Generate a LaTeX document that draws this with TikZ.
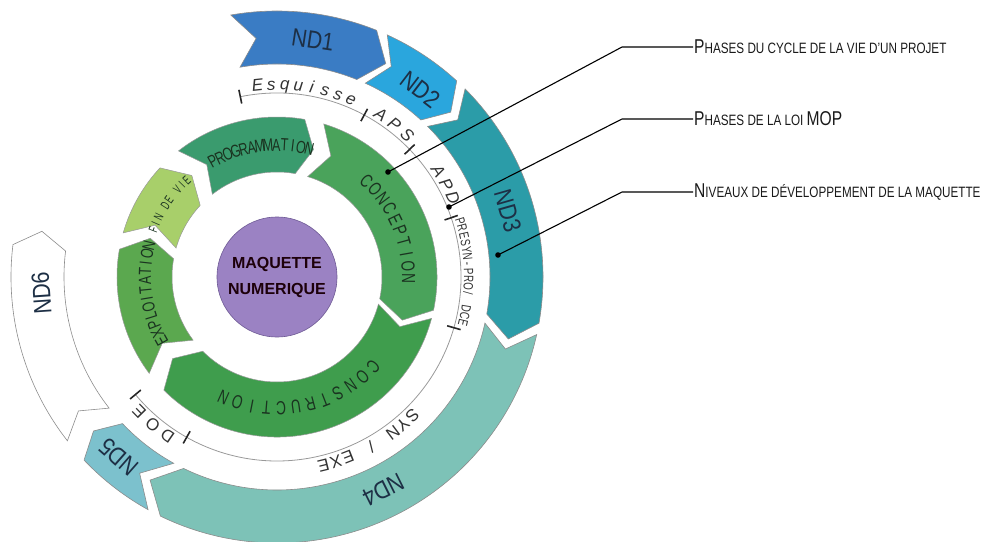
\documentclass[tikz,border=0pt]{standalone}
\usepackage{fontspec}
\setmainfont{Liberation Sans}
\newfontfamily\condfont[FakeStretch=0.72]{Liberation Sans}
\newfontfamily\narrowfont[FakeStretch=0.6]{Liberation Sans}
\newfontfamily\ndfont[FakeStretch=0.85]{Liberation Sans}
\newfontfamily\labfont[FakeStretch=0.78]{Liberation Sans}

\definecolor{ndA}{HTML}{3A7CC4}
\definecolor{ndB}{HTML}{2AA6DD}
\definecolor{ndC}{HTML}{2B9CA8}
\definecolor{ndD}{HTML}{7DC2B7}
\definecolor{ndE}{HTML}{7CC1CD}
\definecolor{gProg}{HTML}{3A9B6E}
\definecolor{gConc}{HTML}{4AA35B}
\definecolor{gCons}{HTML}{3F9D4D}
\definecolor{gExpl}{HTML}{5BA84F}
\definecolor{gFin}{HTML}{A8CF6A}
\definecolor{purp}{HTML}{9B82C3}
\definecolor{purpline}{HTML}{6E5A94}
\definecolor{ndtext}{HTML}{1D2F45}
\definecolor{gtext}{HTML}{1A3320}

% #1 options, #2 tail angle, #3 head angle, #4 tail depth, #5 head depth, #6 rin, #7 rout
\newcommand\ringarrow[7]{%
  \pgfmathsetmacro\rmid{(#6+#7)/2}%
  \path[#1] (#2:#7pt) arc[start angle=#2, end angle=#3, radius=#7pt]
    -- ({#3-#5}:\rmid pt) -- (#3:#6pt)
    arc[start angle=#3, end angle=#2, radius=#6pt]
    -- ({#2-#4}:\rmid pt) -- cycle;
}
% #1 name, #2 centre angle, #3 step, #4 baseline radius, #5 style, #6 list
\newcommand\arctext[6]{%
  \foreach \ch [count=\i] in {#6} {\xdef\arcn{\i}}%
  \foreach \ch [count=\i] in {#6} {%
    \pgfmathsetmacro\arcang{#2+(\arcn+1)/2*#3-\i*#3}%
    \node[#5, anchor=base, inner sep=0pt, rotate=\arcang-90] (#1-\i) at (\arcang:#4pt) {\ch};
  }%
}
\newcommand\bigc[1]{{\fontsize{20}{20}\selectfont #1}}

\begin{document}
\begin{tikzpicture}[x=1pt,y=1pt,
  ndshape/.style={draw=black!45, line width=0.6pt},
  gshape/.style={draw=black!40, line width=0.5pt},
  ndlabel/.style={font=\ndfont\fontsize{25}{25}\selectfont, text=ndtext, inner sep=0pt},
  gbig/.style={font=\condfont\fontsize{19}{19}\selectfont, text=gtext},
  gmid/.style={font=\condfont\fontsize{17.5}{17.5}\selectfont, text=gtext},
  gsmall/.style={font=\narrowfont\fontsize{13}{13}\selectfont, text=gtext},
  mopletter/.style={font=\fontsize{17}{17}\selectfont\itshape, text=black!80},
  mopup/.style={font=\fontsize{17}{17}\selectfont, text=black!80},
  mopsmall/.style={font=\condfont\fontsize{13.5}{13.5}\selectfont, text=black!80},
  mopline/.style={draw=black!40, line width=0.8pt},
  moptick/.style={draw=black!85, line width=1.6pt},
  leader/.style={draw=black, line width=1.1pt},
  labtext/.style={font=\labfont\fontsize{15}{15}\selectfont, text=black!90, anchor=west, inner sep=1pt}]
\useasboundingbox (-277,-264) rectangle (705,277);

% ---- outer ring : development levels ----
\ringarrow{ndshape, fill=ndA}{100}{68}{5}{5}{213}{266}
\ringarrow{ndshape, fill=ndB}{65.5}{47.5}{4}{4}{213}{266}
\ringarrow{ndshape, fill=ndC}{45}{-10}{4}{5}{213}{266}
\ringarrow{ndshape, fill=ndD}{-12.5}{-116}{5}{6}{213}{266}
\ringarrow{ndshape, fill=ndE}{-119}{-136.5}{6}{3.5}{213}{266}
\ringarrow{ndshape, fill=white}{-142}{-187}{4}{4}{213}{266}

\node[ndlabel, rotate=-8.6] (nd1) at (81.4:240pt) {ND1};
\node[ndlabel, rotate=-37.4] (nd2) at (52.6:236pt) {ND2};
\node[ndlabel, rotate=-74] (nd3) at (16:240pt) {ND3};
\node[ndlabel, rotate=-153.5] (nd4) at (-63.5:238pt) {ND4};
\node[ndlabel, rotate=138.7] (nd5) at (228.7:240pt) {ND5};
\node[ndlabel, rotate=93.9] (nd6) at (183.9:236pt) {ND6};

% ---- MOP phases ring ----
\draw[mopline] (101.5:184pt) arc[start angle=101.5, end angle=-140.3, radius=184pt];
\foreach \t in {101.5, 61.7, 43.9, 18.8, -16, -119.4, -140.3}
  \draw[moptick] (\t:177pt) -- (\t:191pt);

\arctext{esq}{81.6}{4.06}{187}{mopletter}{E,s,q,u,i,s,s,e}
\arctext{aps}{52.5}{4.95}{187}{mopletter}{A,P,S}
\arctext{apd}{28.7}{4.5}{187}{mopletter}{A,P,D}
\arctext{pre}{1.6}{2.2}{187}{mopsmall}{P,R,E,S,Y,N,-,P,R,O,{/},{},D,C,E}
\arctext{syn}{-60.9}{3.8}{188}{mopup}{S,Y,N,{},{/},{},E,X,E}
\arctext{doe}{229.9}{5.5}{187}{mopup}{D,O,E}

% ---- project life-cycle phases ----
\ringarrow{gshape, fill=gProg}{128}{80}{6}{6}{105}{160}
\ringarrow{gshape, fill=gConc}{73}{-12}{7}{7}{105}{160}
\ringarrow{gshape, fill=gCons}{-15}{-135}{7}{7}{105}{160}
\ringarrow{gshape, fill=gExpl}{217}{170}{7}{7}{105}{160}
\ringarrow{gshape, fill=gFin}{164}{137}{7}{7}{105}{160}

\arctext{prog}{97.5}{3.6}{126}{gmid}{P,R,O,G,R,A,M,M,A,T,I,O,N}
\arctext{conc}{23.3}{5.3}{125}{gbig}{C,O,N,C,E,P,T,I,O,N}
\arctext{cons}{-78.5}{6.45}{125}{gbig}{C,O,N,S,T,R,U,C,T,I,O,N}
\arctext{expl}{187.5}{3.9}{126}{gmid}{E,X,P,L,O,I,T,A,T,I,O,N}
\arctext{fin}{146}{2.9}{128}{gsmall}{F,I,N,{},D,E,{},V,I,E}

% ---- centre ----
\node[circle, minimum size=120pt, fill=purp, draw=purpline, line width=0.6pt,
      align=center, font=\bfseries\fontsize{16}{26}\selectfont, text=black!85!purple]
  (centre) at (0,0) {MAQUETTE\\NUMERIQUE};

% ---- leader lines and captions ----
\coordinate (dot1) at (111,105);
\coordinate (dot2) at (172,70);
\coordinate (dot3) at (221,22);
\coordinate (elb1) at (345,230);
\coordinate (elb2) at (345,158);
\coordinate (elb3) at (345,85);
\node[labtext] (lab1) at (416,230) {\bigc{P}HASES DU CYCLE DE LA VIE D’UN PROJET};
\node[labtext] (lab2) at (416,158) {\bigc{P}HASES DE LA LOI \bigc{MOP}};
\node[labtext] (lab3) at (416,85) {\bigc{N}IVEAUX DE DÉVELOPPEMENT DE LA MAQUETTE};
\draw[leader] (dot1) -- (elb1) -- (lab1.west);
\draw[leader] (dot2) -- (elb2) -- (lab2.west);
\draw[leader] (dot3) -- (elb3) -- (lab3.west);
\fill (dot1) circle (2.8pt);
\fill (dot2) circle (2.8pt);
\fill (dot3) circle (2.8pt);
\end{tikzpicture}
\end{document}
